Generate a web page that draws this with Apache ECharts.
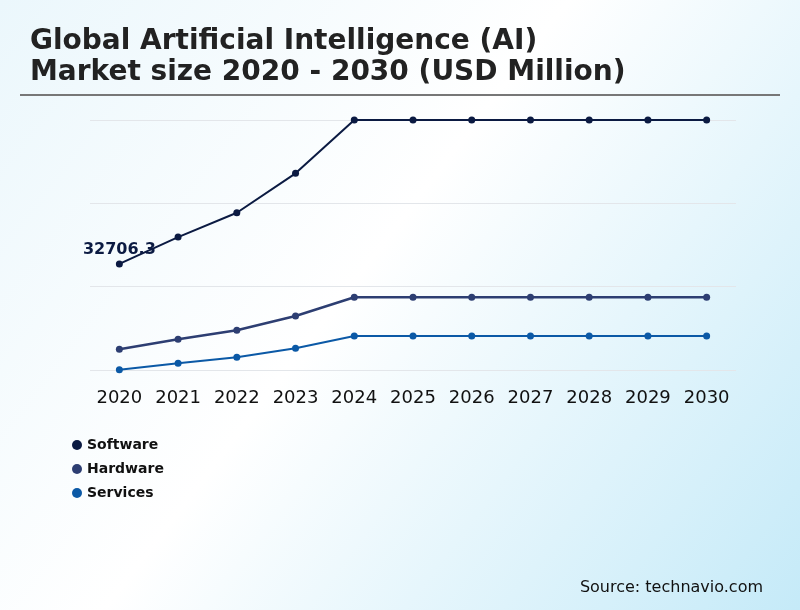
<!DOCTYPE html>
<html>
<head>
<meta charset="utf-8">
<script src="https://cdn.jsdelivr.net/npm/echarts@6/dist/echarts.min.js"></script>
<style>html,body{margin:0;padding:0;}#c{width:800px;height:610px;}</style>
</head>
<body>
<div id="c"></div>
<script>
const years = ['2020','2021','2022','2023','2024','2025','2026','2027','2028','2029','2030'];
const software = [32706.3, 41000, 48500, 60650, 77100, 77100, 77100, 77100, 77100, 77100, 77100];
const hardware = [6380, 9470, 12240, 16650, 22420, 22420, 22420, 22420, 22420, 22420, 22420];
const services = [100, 2070, 3920, 6690, 10490, 10490, 10490, 10490, 10490, 10490, 10490];
const seriesNames = ['Software', 'Hardware', 'Services'];
const colors = ['#0b1a42', '#2d3e72', '#0b59a6'];

const chart = echarts.init(document.getElementById('c'));
const F = 'DejaVu Sans';
function mk(name, vals, color, width, labelFirst) {
  return {
    name: name, type: 'line', data: vals.map((v, i) => (labelFirst && i === 0) ? {
      value: v, label: { show: true, position: 'top', distance: 3, formatter: '{c}',
        fontFamily: F, fontWeight: 'bold', fontSize: 16, color: '#0b1a42' } } : v),
    symbol: 'circle', symbolSize: 7, color: color,
    lineStyle: { width: width, color: color }, itemStyle: { color: color },
    clip: false, z: 3
  };
}
chart.setOption({
  backgroundColor: { type: 'linear', x: 0, y: 0, x2: 1, y2: 1,
    colorStops: [{ offset: 0, color: '#ebf7fc' }, { offset: 0.45, color: '#ffffff' }, { offset: 1, color: '#c5eaf8' }] },
  title: {
    text: 'Global Artificial Intelligence (AI)\nMarket size 2020 - 2030 (USD Million)',
    left: 25, top: 21,
    textStyle: { fontFamily: F, fontWeight: 'bold', fontSize: 28, lineHeight: 31, color: '#222' }
  },
  graphic: [
    { type: 'line', shape: { x1: 20, y1: 95, x2: 780, y2: 95 }, style: { stroke: '#777', lineWidth: 2 } },
    { type: 'text', right: 37, top: 580, style: { text: 'Source: technavio.com', font: '16px "DejaVu Sans"', fill: '#111' } }
  ],
  legend: {
    orient: 'vertical', left: 67, top: 433, itemGap: 10, itemWidth: 10, itemHeight: 10,
    icon: 'circle', data: seriesNames,
    textStyle: { fontFamily: F, fontWeight: 'bold', fontSize: 14, color: '#111', lineHeight: 14 }
  },
  grid: { left: 90, right: 64, top: 120, bottom: 240 },
  xAxis: {
    type: 'category', data: years, boundaryGap: true,
    axisLine: { show: false }, axisTick: { show: false },
    axisLabel: { interval: 0, fontFamily: F, fontSize: 18, color: '#111', margin: 19 }
  },
  yAxis: {
    type: 'value', min: 0, max: 77100, interval: 25700,
    axisLabel: { show: false }, axisLine: { show: false }, axisTick: { show: false },
    splitLine: { lineStyle: { color: '#e3e6ea', width: 1 } }
  },
  series: [
    mk(seriesNames[0], software, colors[0], 2, true),
    mk(seriesNames[1], hardware, colors[1], 2.5, false),
    mk(seriesNames[2], services, colors[2], 2, false)
  ]
});
</script>
</body>
</html>
